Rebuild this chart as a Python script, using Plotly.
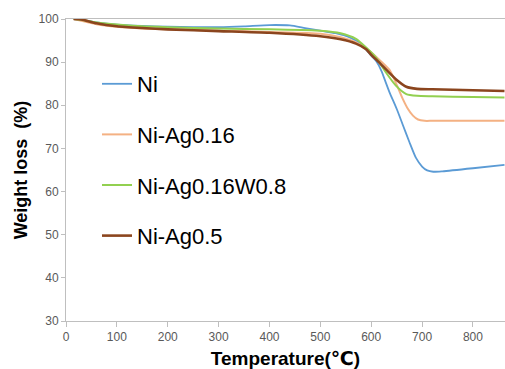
import plotly.graph_objects as go

# ---- data ----
series_names = ["Ni", "Ni-Ag0.16", "Ni-Ag0.16W0.8", "Ni-Ag0.5"]

ni_t = [15, 30, 60, 100, 150, 200, 250, 300, 350, 400, 440, 470, 500, 530, 560, 580, 600, 610, 620, 628, 636, 650, 662, 675, 688, 700, 710, 722, 740, 800, 862]
ni_w = [100, 99.8, 99.2, 98.7, 98.4, 98.2, 98.1, 98.1, 98.3, 98.6, 98.5, 97.9, 97.3, 96.7, 95.6, 94.2, 91.5, 90.2, 88.0, 85.5, 83.0, 79.2, 75.5, 71.5, 67.8, 65.8, 64.9, 64.6, 64.7, 65.4, 66.2]

ag16_t = [15, 30, 60, 100, 150, 200, 300, 400, 500, 540, 570, 590, 610, 636, 650, 662, 672, 682, 692, 705, 720, 800, 862]
ag16_w = [100, 99.6, 98.8, 98.2, 97.8, 97.6, 97.3, 97.0, 96.6, 95.8, 94.6, 93.2, 91.2, 88.2, 84.8, 81.5, 79.2, 77.6, 76.7, 76.4, 76.4, 76.4, 76.4]

agw_t = [15, 30, 60, 100, 150, 200, 300, 400, 500, 540, 570, 590, 610, 629, 649, 669, 690, 720, 800, 862]
agw_w = [100, 99.8, 99.2, 98.7, 98.3, 98.1, 97.8, 97.6, 97.3, 96.7, 95.4, 93.4, 91.0, 87.6, 84.5, 82.6, 82.2, 82.1, 81.9, 81.8]

ag5_t = [15, 30, 60, 100, 150, 200, 300, 400, 500, 540, 570, 590, 600, 615, 630, 649, 669, 690, 720, 800, 862]
ag5_w = [100, 99.9, 99.0, 98.3, 97.9, 97.6, 97.2, 96.8, 96.0, 95.3, 94.3, 93.0, 91.7, 90.0, 88.2, 86.0, 84.3, 83.8, 83.7, 83.5, 83.3]

colors = ["#5B9BD5", "#F4B183", "#92D050", "#8B451E"]
widths = [1.8, 2.0, 2.0, 2.6]

x_ticks = [0, 100, 200, 300, 400, 500, 600, 700, 800]
y_ticks = [30, 40, 50, 60, 70, 80, 90, 100]

fig = go.Figure()
for name, t, w, c, lw in zip(series_names, [ni_t, ag16_t, agw_t, ag5_t],
                              [ni_w, ag16_w, agw_w, ag5_w], colors, widths):
    fig.add_trace(go.Scatter(x=t, y=w, mode="lines", name=name, legendgroup=name,
                             line=dict(color=c, width=lw, shape="spline", smoothing=0.6)))

font_family = "Liberation Sans, Arial, DejaVu Sans, sans-serif"
fig.update_layout(
    width=505, height=369,
    margin=dict(l=66, r=0, t=19, b=48, autoexpand=False),
    paper_bgcolor="white", plot_bgcolor="white",
    font=dict(family=font_family, color="#595959", size=12),
    showlegend=True,
    legend=dict(x=(97 - 66) / 439, y=(321 - 63) / 302, xanchor="left", yanchor="top",
                font=dict(size=22, color="#000000", family=font_family),
                tracegroupgap=19, traceorder="grouped",
                bgcolor="rgba(0,0,0,0)"),
)
fig.update_xaxes(range=[0, 863], tickvals=x_ticks, showgrid=False, zeroline=False,
                 automargin=False,
                 showline=True, linecolor="#BFBFBF", linewidth=1, mirror=True,
                 ticks="outside", ticklen=5, tickcolor="#BFBFBF",
                 tickfont=dict(size=12, color="#595959"),
                 title=dict(text="<b>Temperature(℃)</b>", standoff=10,
                            font=dict(size=19, color="#000000")))
fig.update_yaxes(range=[30, 100], tickvals=y_ticks, showgrid=False, zeroline=False,
                 automargin=False,
                 showline=True, linecolor="#BFBFBF", linewidth=1,
                 ticks="outside", ticklen=4, tickcolor="#BFBFBF",
                 tickfont=dict(size=12, color="#595959"),
                 title=dict(text="<b>Weight loss  (%)</b>", standoff=6,
                            font=dict(size=18, color="#000000")))

fig.write_html("out.html", config={"displayModeBar": False},
               post_script="document.body.style.margin='0';document.body.style.overflow='hidden';")
